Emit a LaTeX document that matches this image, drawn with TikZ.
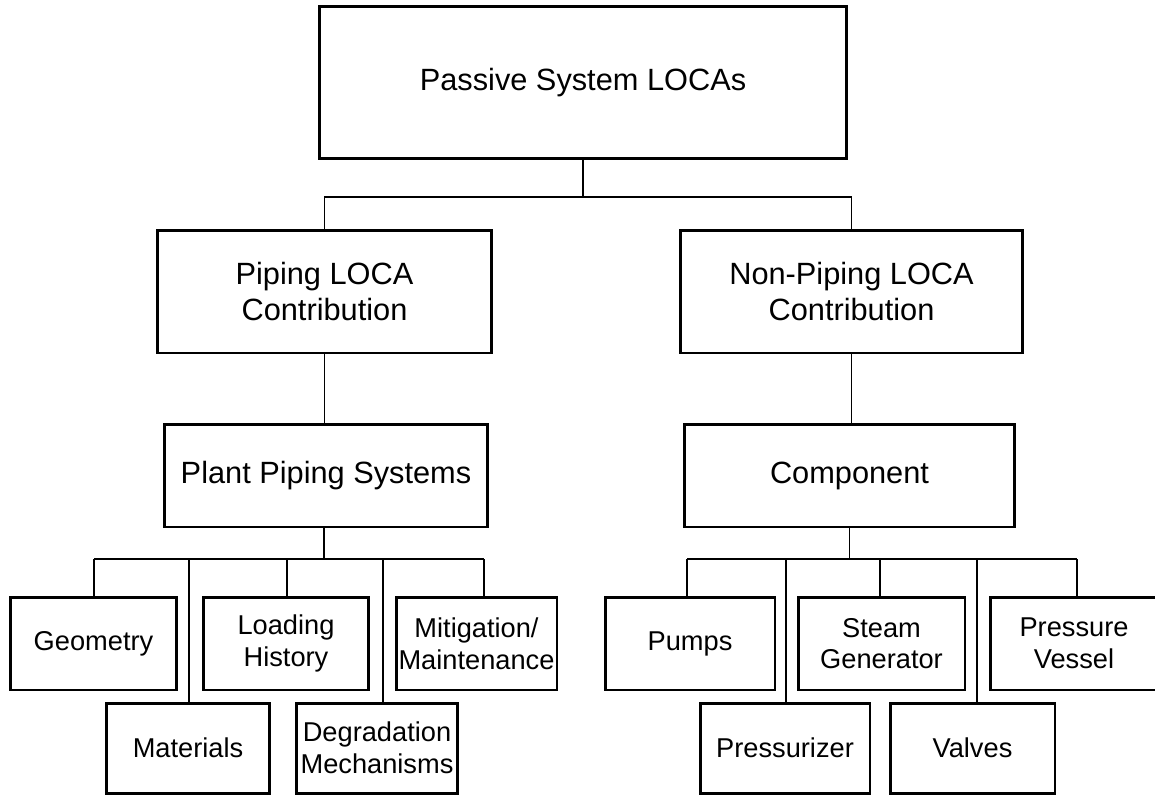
\documentclass[tikz,border=0pt]{standalone}
\usepackage{fontspec}
\setmainfont{Liberation Sans}
\begin{document}
\begin{tikzpicture}[x=0.02cm, y=-0.02cm,
      box/.style={draw, line width=1.7pt, inner sep=0pt, align=center,
        font=\fontsize{17.5}{20}\selectfont},
      leaf/.style={box, font=\fontsize{15.5}{18}\selectfont},
      link/.style={line width=1.1pt}]
      \useasboundingbox (0,0) rectangle (1155,795);

      % Define nodes
      \node[box, minimum width=10.56cm, minimum height=3.06cm] (top) at (583,82.5) {Passive System LOCAs};
      \node[box, minimum width=6.7cm, minimum height=2.46cm] (piping) at (324.5,291.5) {Piping LOCA\\Contribution};
      \node[box, minimum width=6.86cm, minimum height=2.46cm] (nonpiping) at (851.5,291.5) {Non-Piping LOCA\\Contribution};
      \node[box, minimum width=6.48cm, minimum height=2.06cm] (plant) at (326,475.5) {Plant Piping Systems};
      \node[box, minimum width=6.62cm, minimum height=2.06cm] (comp) at (849.5,475.5) {Component};

      % piping branch
      \node[leaf, minimum width=3.34cm, minimum height=1.86cm] (geom) at (93.5,643.5) {Geometry};
      \node[leaf, minimum width=3.32cm, minimum height=1.86cm] (load) at (286,643.5) {Loading\\History};
      \node[leaf, minimum width=3.22cm, minimum height=1.86cm] (mitig) at (476.5,643.5) {Mitigation/\\Maintenance};
      \node[leaf, minimum width=3.28cm, minimum height=1.8cm] (mater) at (188,748) {Materials};
      \node[leaf, minimum width=3.24cm, minimum height=1.8cm] (degr) at (377,748) {Degradation\\Mechanisms};

      % component branch
      \node[leaf, minimum width=3.4cm, minimum height=1.86cm] (pumps) at (690,643.5) {Pumps};
      \node[leaf, minimum width=3.34cm, minimum height=1.86cm] (steam) at (881.5,643.5) {Steam\\Generator};
      \node[leaf, minimum width=3.34cm, minimum height=1.86cm] (vessel) at (1074,643.5) {Pressure\\Vessel};
      \node[leaf, minimum width=3.4cm, minimum height=1.8cm] (press) at (785,748) {Pressurizer};
      \node[leaf, minimum width=3.3cm, minimum height=1.8cm] (valves) at (972.5,748) {Valves};

      % Connect the levels
      \coordinate (topbar) at (583,197);
      \draw[link] (top.south) -- (topbar);
      \draw[link] (topbar) -| (piping.north);
      \draw[link] (topbar) -| (nonpiping.north);
      \draw[link] (piping.south) -- (piping.south |- plant.north);
      \draw[link] (nonpiping.south) -- (nonpiping.south |- comp.north);

      \coordinate (lbar) at (324,559);
      \coordinate (rbar) at (849.5,559);
      \draw[link] (lbar |- plant.south) -- (lbar);
      \draw[link] (comp.south) -- (rbar);
      \draw[link] (94,559) -- (484,559);
      \draw[link] (687,559) -- (1077,559);
      \foreach \n/\x in {geom/94, mater/189, load/287, degr/383, mitig/484,
          pumps/687, press/786, steam/880, valves/977, vessel/1077}
        \draw[link] (\x,559) -- (\x,559 |- \n.north);
    \end{tikzpicture}
\end{document}
